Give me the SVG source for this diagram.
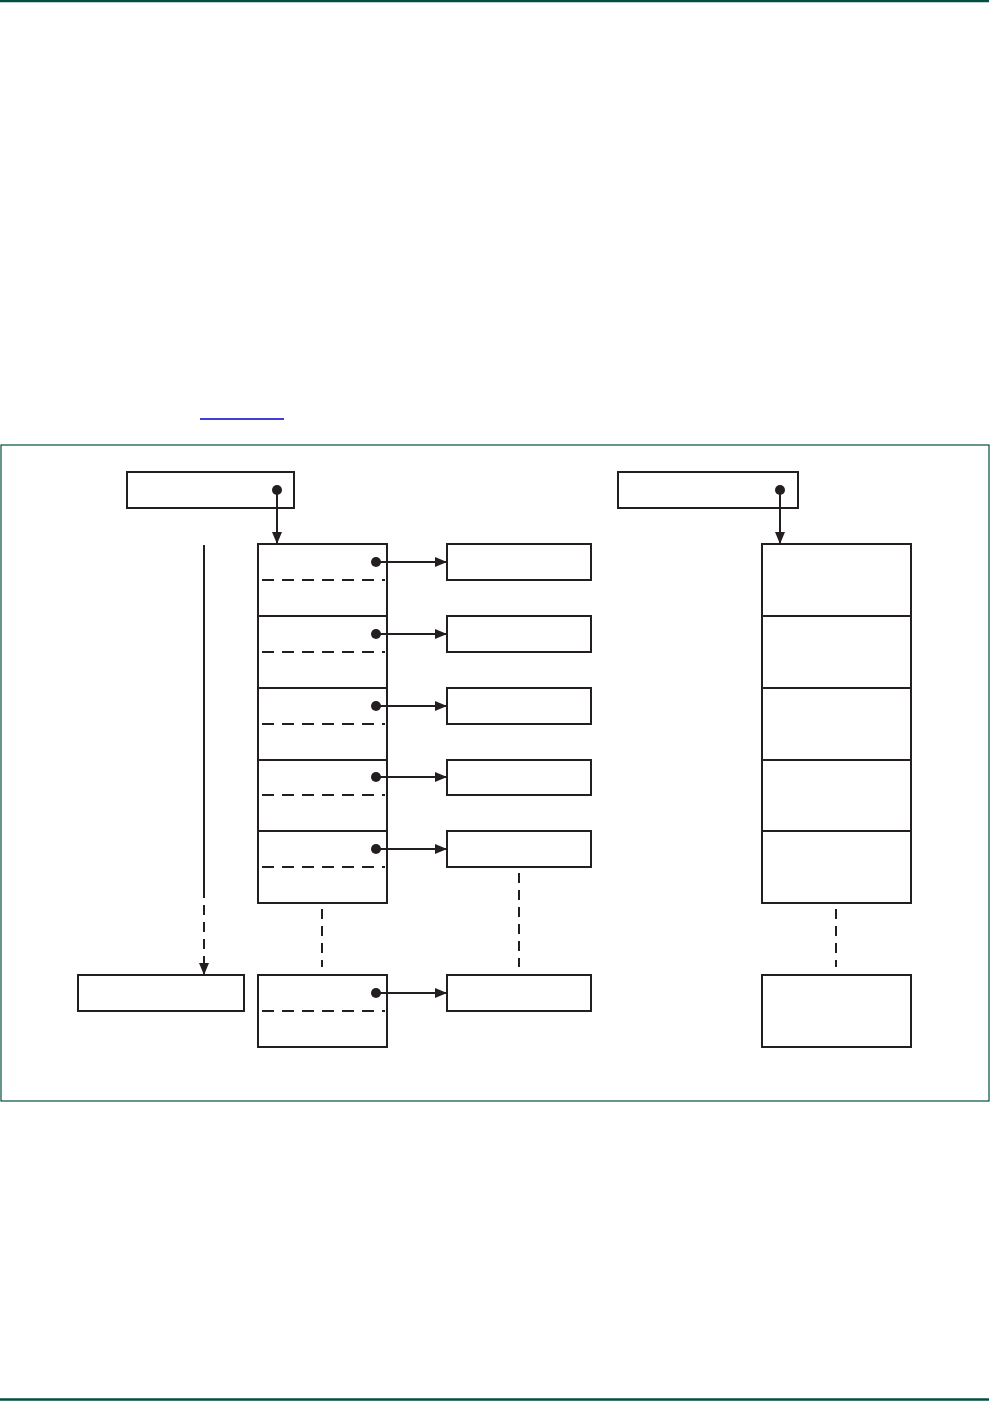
<svg xmlns="http://www.w3.org/2000/svg" width="991" height="1401" viewBox="0 0 991 1401">
<style>
.box{fill:#fff;stroke:#231f20;stroke-width:2}
.ln{fill:none;stroke:#231f20;stroke-width:2}
.dash{fill:none;stroke:#231f20;stroke-width:2;stroke-dasharray:12 8}
.vdash{fill:none;stroke:#231f20;stroke-width:2;stroke-dasharray:10 7}
.dot{fill:#231f20}
.rule{stroke:#00503f;fill:none}
</style>
<defs>
<marker id="ah" viewBox="0 0 12 10" refX="12" refY="5" markerWidth="12" markerHeight="10" markerUnits="userSpaceOnUse" orient="auto">
<path d="M0,0 L12,5 L0,10 Z" fill="#231f20"/>
</marker>
</defs>
<line class="rule" x1="0" y1="1" x2="989" y2="1" stroke-width="2.5"/>
<line class="rule" x1="0" y1="1399.5" x2="989" y2="1399.5" stroke-width="2.5"/>
<line x1="200" y1="419" x2="284" y2="419" stroke="#0000cc" stroke-width="1.5"/>
<rect class="rule" x="1" y="445" width="988" height="656" stroke-width="1.2"/>

<g id="head-left"><rect class="box" x="127" y="472" width="167" height="36"/></g>
<g id="head-right"><rect class="box" x="618" y="472" width="180" height="36"/></g>

<g id="col-left">
<rect class="box" x="258" y="544" width="129" height="72"/>
<rect class="box" x="258" y="616" width="129" height="72"/>
<rect class="box" x="258" y="688" width="129" height="72"/>
<rect class="box" x="258" y="760" width="129" height="71"/>
<rect class="box" x="258" y="831" width="129" height="72"/>
<line class="dash" x1="262" y1="580" x2="385" y2="580"/>
<line class="dash" x1="262" y1="652" x2="385" y2="652"/>
<line class="dash" x1="262" y1="724" x2="385" y2="724"/>
<line class="dash" x1="262" y1="795" x2="385" y2="795"/>
<line class="dash" x1="262" y1="867" x2="385" y2="867"/>
</g>
<g id="col-left-last">
<rect class="box" x="258" y="975" width="129" height="72"/>
<line class="dash" x1="262" y1="1011" x2="385" y2="1011"/>
</g>

<g id="targets">
<rect class="box" x="447" y="544" width="144" height="36"/>
<rect class="box" x="447" y="616" width="144" height="36"/>
<rect class="box" x="447" y="688" width="144" height="36"/>
<rect class="box" x="447" y="760" width="144" height="35"/>
<rect class="box" x="447" y="831" width="144" height="36"/>
</g>
<g id="target-last"><rect class="box" x="447" y="975" width="144" height="36"/></g>

<g id="col-right">
<rect class="box" x="762" y="544" width="149" height="72"/>
<rect class="box" x="762" y="616" width="149" height="72"/>
<rect class="box" x="762" y="688" width="149" height="72"/>
<rect class="box" x="762" y="760" width="149" height="71"/>
<rect class="box" x="762" y="831" width="149" height="72"/>
</g>
<g id="col-right-last"><rect class="box" x="762" y="975" width="149" height="72"/></g>

<g id="left-end"><rect class="box" x="78" y="975" width="166" height="36"/></g>

<g id="connectors">
<circle class="dot" cx="277" cy="490" r="5"/>
<line class="ln" x1="277" y1="490" x2="277" y2="544" marker-end="url(#ah)"/>
<circle class="dot" cx="780" cy="490" r="5"/>
<line class="ln" x1="780" y1="490" x2="780" y2="544" marker-end="url(#ah)"/>

<circle class="dot" cx="376" cy="562" r="5"/>
<line class="ln" x1="376" y1="562" x2="447" y2="562" marker-end="url(#ah)"/>
<circle class="dot" cx="376" cy="634" r="5"/>
<line class="ln" x1="376" y1="634" x2="447" y2="634" marker-end="url(#ah)"/>
<circle class="dot" cx="376" cy="706" r="5"/>
<line class="ln" x1="376" y1="706" x2="447" y2="706" marker-end="url(#ah)"/>
<circle class="dot" cx="376" cy="777" r="5"/>
<line class="ln" x1="376" y1="777" x2="447" y2="777" marker-end="url(#ah)"/>
<circle class="dot" cx="376" cy="849" r="5"/>
<line class="ln" x1="376" y1="849" x2="447" y2="849" marker-end="url(#ah)"/>
<circle class="dot" cx="376" cy="993" r="5"/>
<line class="ln" x1="376" y1="993" x2="447" y2="993" marker-end="url(#ah)"/>

<line class="ln" x1="204" y1="545" x2="204" y2="888"/>
<line class="vdash" x1="204" y1="888" x2="204" y2="966"/>
<line class="ln" x1="204" y1="960" x2="204" y2="975" marker-end="url(#ah)"/>

<line class="vdash" x1="322" y1="909" x2="322" y2="967"/>
<line class="vdash" x1="519" y1="873" x2="519" y2="967"/>
<line class="vdash" x1="836" y1="909" x2="836" y2="967"/>
</g>
</svg>
